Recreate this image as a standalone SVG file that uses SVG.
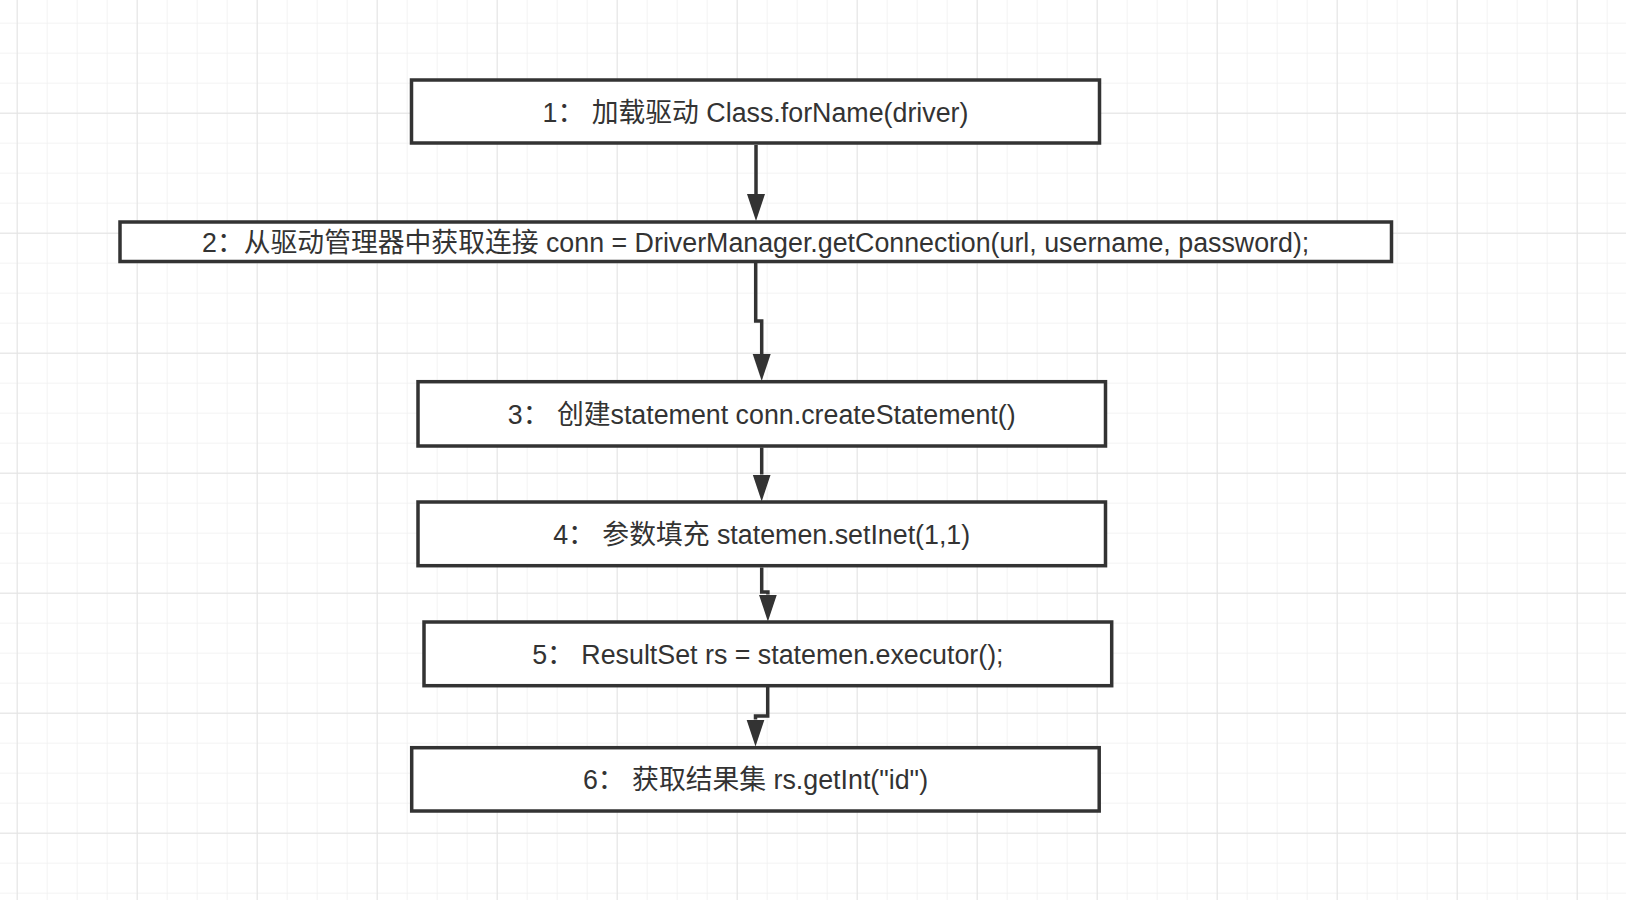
<svg xmlns="http://www.w3.org/2000/svg" width="1626" height="900" viewBox="0 0 1626 900">
<defs>
<style>
.box{fill:#ffffff;stroke:#333333;stroke-width:3.5}
.lbl{font-family:"Liberation Sans","Noto Sans CJK SC",sans-serif;font-size:26.8px;fill:#333333;text-anchor:middle}
.conn{fill:none;stroke:#333333;stroke-width:3.5}
</style>
<pattern id="minor" patternUnits="userSpaceOnUse" x="16.7" y="22.7" width="30" height="30">
<path d="M0 0 V30 M0 0 H30" stroke="#f0f0f0" stroke-width="1.5" fill="none"/>
</pattern>
<pattern id="major" patternUnits="userSpaceOnUse" x="16.7" y="112.7" width="120" height="120">
<path d="M0 0 V120 M0 0 H120" stroke="#e3e3e3" stroke-width="1.8" fill="none"/>
</pattern>
<marker id="arr" markerUnits="userSpaceOnUse" markerWidth="30" markerHeight="20" refX="0" refY="9" orient="auto" viewBox="0 0 30 18">
<path d="M0 0 L27 9 L0 18 Z" fill="#333333"/>
</marker>
</defs>
<rect width="1626" height="900" fill="#ffffff"/>
<rect width="1626" height="900" fill="url(#minor)"/>
<rect width="1626" height="900" fill="url(#major)"/>
<g id="connectors">
<path class="conn" d="M756 145 V194" marker-end="url(#arr)"/>
<path class="conn" d="M755.7 263 V321 H761.7 V354" marker-end="url(#arr)"/>
<path class="conn" d="M761.7 447.5 V474.5" marker-end="url(#arr)"/>
<path class="conn" d="M761.7 567.5 V592 H767.9 V594.5" marker-end="url(#arr)"/>
<path class="conn" d="M767.7 687 V716 H755.5 V719.5" marker-end="url(#arr)"/>
</g>
<g id="n1">
<rect class="box" x="411.5" y="80" width="688" height="63"/>
<text class="lbl" x="755.5" y="121.5">1： 加载驱动 Class.forName(driver)</text>
</g>
<g id="n2">
<rect class="box" x="120" y="222" width="1271.5" height="39.5"/>
<text class="lbl" x="755.7" y="251.5">2：从驱动管理器中获取连接 conn = DriverManager.getConnection(url, username, password);</text>
</g>
<g id="n3">
<rect class="box" x="418" y="381.7" width="687.5" height="64.3"/>
<text class="lbl" x="761.7" y="423.5">3： 创建statement conn.createStatement()</text>
</g>
<g id="n4">
<rect class="box" x="418" y="502" width="687.5" height="63.7"/>
<text class="lbl" x="761.7" y="543.5">4： 参数填充 statemen.setInet(1,1)</text>
</g>
<g id="n5">
<rect class="box" x="424" y="622" width="687.7" height="63.7"/>
<text class="lbl" x="767.9" y="663.5">5： ResultSet rs = statemen.executor();</text>
</g>
<g id="n6">
<rect class="box" x="411.7" y="747.7" width="687.5" height="63.3"/>
<text class="lbl" x="755.5" y="789">6： 获取结果集 rs.getInt("id")</text>
</g>
</svg>
